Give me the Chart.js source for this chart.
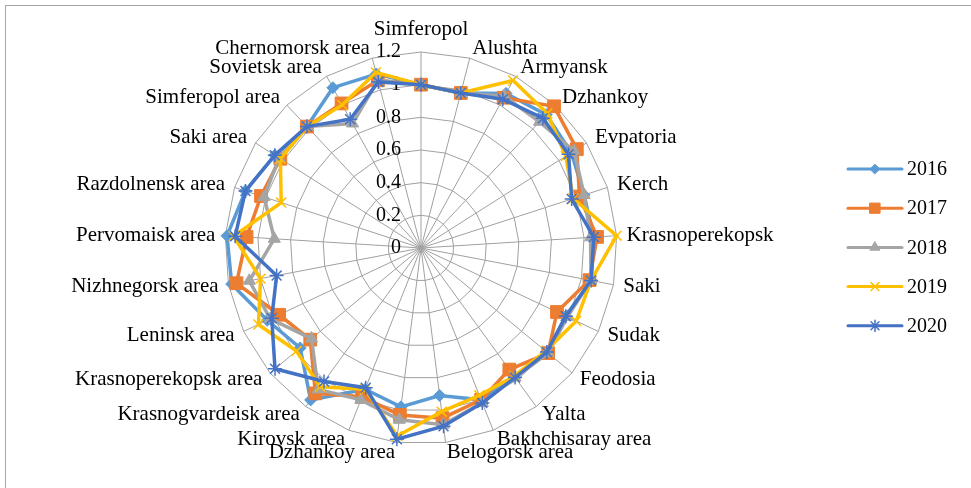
<!DOCTYPE html>
<html>
<head>
<meta charset="utf-8">
<script src="https://cdn.jsdelivr.net/npm/chart.js@4/dist/chart.umd.min.js"></script>
<style>
  html, body { margin: 0; padding: 0; background: #fff; }
  #wrap { position: relative; width: 971px; height: 488px; overflow: hidden; }
  #frame { position: absolute; left: 5px; top: 5px; width: 1000px; height: 600px;
           border-top: 1px solid #a6a6a6; border-left: 1px solid #a6a6a6; }
  #c { position: absolute; left: 0; top: 0; }
</style>
</head>
<body>
<div id="wrap">
  <div id="frame"></div>
  <canvas id="c" width="971" height="488"></canvas>
</div>
<script>
// categories, clockwise from the top
const categories = [
    'Simferopol', 'Alushta', 'Armyansk', 'Dzhankoy', 'Evpatoria', 'Kerch',
    'Krasnoperekopsk', 'Saki', 'Sudak', 'Feodosia', 'Yalta', 'Bakhchisaray area',
    'Belogorsk area', 'Dzhankoy area', 'Kirovsk area', 'Krasnogvardeisk area',
    'Krasnoperekopsk area', 'Leninsk area', 'Nizhnegorsk area', 'Pervomaisk area',
    'Razdolnensk area', 'Saki area', 'Simferopol area', 'Sovietsk area', 'Chernomorsk area'
];

const years = ['2016', '2017', '2018', '2019', '2020'];

const v2016 = [1.00, 0.98, 1.08, 1.12, 1.09, 1.05, 1.06, 1.06, 0.98, 1.00, 0.97, 1.00,
               0.91, 0.98, 0.93, 1.15, 0.96, 1.04, 1.18, 1.19, 1.13, 1.06, 1.02, 1.12, 1.10];
const v2017 = [1.00, 0.98, 1.05, 1.19, 1.13, 1.02, 1.08, 1.05, 0.92, 1.01, 0.92, 1.00,
               1.05, 1.03, 0.98, 1.10, 0.88, 0.96, 1.15, 1.07, 1.03, 1.02, 1.02, 1.01, 1.06];
const v2018 = [1.00, 0.98, 1.06, 1.06, 1.11, 1.05, 1.04, 1.06, 0.99, 1.01, 0.98, 1.02,
               1.09, 1.06, 1.00, 1.07, 0.87, 1.02, 1.07, 0.90, 1.01, 1.03, 1.02, 0.87, 1.06];
const v2019 = [1.00, 0.98, 1.17, 1.13, 1.05, 0.98, 1.20, 1.06, 1.05, 0.99, 0.97, 0.97,
               1.01, 1.16, 0.93, 1.05, 0.99, 1.10, 1.00, 1.15, 0.90, 1.02, 1.02, 1.00, 1.11];
const v2020 = [1.00, 0.98, 1.04, 1.09, 1.07, 0.97, 1.06, 1.06, 0.98, 1.00, 0.98, 1.02,
               1.10, 1.18, 0.92, 1.01, 1.16, 1.01, 0.90, 1.14, 1.13, 1.06, 1.02, 0.90, 1.05];

const tickLabels = ['0', '0.2', '0.4', '0.6', '0.8', '1', '1.2'];
const tickValues = [0, 0.2, 0.4, 0.6, 0.8, 1, 1.2];

// look
const FONT = '"Liberation Serif", "Times New Roman", serif';
const colors = ['#5B9BD5', '#ED7D31', '#A5A5A5', '#FFC000', '#4472C4'];
const markers = ['rectRot', 'rect', 'triangle', 'crossRot', 'star'];
const markerSize = [6, 9, 7, 7, 7];
const CX = 421, CY = 248, R = 196, LABEL_PAD = 10, LABEL_SIZE = 21;

const series = [v2016, v2017, v2018, v2019, v2020];

const datasets = series.map((vals, i) => ({
    label: years[i],
    data: vals,
    order: series.length - i,         // 2020 ends on top, like Excel
    borderColor: colors[i],
    backgroundColor: colors[i],
    borderWidth: 3.5,
    fill: false,
    tension: 0,
    pointStyle: markers[i],
    pointRadius: markerSize[i],
    pointHoverRadius: markerSize[i],
    pointBorderColor: colors[i],
    pointBackgroundColor: colors[i],
    pointBorderWidth: markers[i] === 'crossRot' || markers[i] === 'star' ? 1.5 : 1
}));

// tick labels to the left of the vertical axis (Excel style)
const tickPlugin = {
    id: 'tickText',
    beforeDatasetsDraw(chart) {
        const sc = chart.scales.r;
        const ctx = chart.ctx;
        ctx.save();
        ctx.font = '20px ' + FONT;
        ctx.fillStyle = '#000';
        ctx.textAlign = 'right';
        ctx.textBaseline = 'middle';
        tickValues.forEach((v, i) => {
            const d = sc.getDistanceFromCenterForValue(v);
            ctx.fillText(tickLabels[i], sc.xCenter - 20, sc.yCenter - d);
        });
        ctx.restore();
    }
};

// legend: line + marker + text, on the right
const legendPlugin = {
    id: 'lineLegend',
    afterDraw(chart) {
        const ctx = chart.ctx;
        const x0 = 848, x1 = 902, yTop = 169, gap = 39.2;
        ctx.save();
        chart.data.datasets.forEach((ds, i) => {
            const y = yTop + i * gap;
            ctx.strokeStyle = ds.borderColor;
            ctx.lineWidth = 3;
            ctx.lineCap = 'round';
            ctx.beginPath();
            ctx.moveTo(x0, y);
            ctx.lineTo(x1, y);
            ctx.stroke();
            ctx.fillStyle = ds.pointBackgroundColor;
            ctx.lineWidth = ds.pointBorderWidth;
            Chart.helpers.drawPoint(ctx, {
                pointStyle: ds.pointStyle,
                radius: ds.pointRadius * 0.8,
                rotation: 0,
                borderWidth: ds.pointBorderWidth
            }, (x0 + x1) / 2, y);
            ctx.fillStyle = '#000';
            ctx.font = '20px ' + FONT;
            ctx.textAlign = 'left';
            ctx.textBaseline = 'middle';
            ctx.fillText(ds.label, 907, y + 1);
        });
        ctx.restore();
    }
};

new Chart(document.getElementById('c'), {
    type: 'radar',
    data: { labels: categories, datasets },
    options: {
        responsive: false,
        animation: false,
        events: [],
        plugins: { legend: { display: false }, tooltip: { enabled: false } },
        scales: {
            r: {
                min: 0,
                max: 1.2,
                ticks: { stepSize: 0.2, display: false },
                grid: { color: '#a0a0a0', lineWidth: 1 },
                angleLines: { color: '#a0a0a0', lineWidth: 1 },
                pointLabels: {
                    color: '#000',
                    padding: LABEL_PAD,
                    font: { family: FONT, size: LABEL_SIZE }
                },
                // pin the centre and radius where the original sits
                beforeFit(scale) {
                    scale.setCenterPoint = function () {
                        this.xCenter = CX;
                        this.yCenter = CY;
                        this.drawingArea = R;
                    };
                },
                // Excel centres side labels on their spoke, only the top one sits above
                afterFit(scale) {
                    const items = scale._pointLabelItems || [];
                    items.forEach((it, i) => {
                        if (i === 0) return;
                        const h = it.bottom - it.top;
                        const p = scale.getPointPosition(i, R + LABEL_PAD);
                        it.y = p.y - h / 2;
                        it.top = it.y;
                        it.bottom = it.y + h;
                    });
                }
            }
        }
    },
    plugins: [tickPlugin, legendPlugin]
});
</script>
</body>
</html>
